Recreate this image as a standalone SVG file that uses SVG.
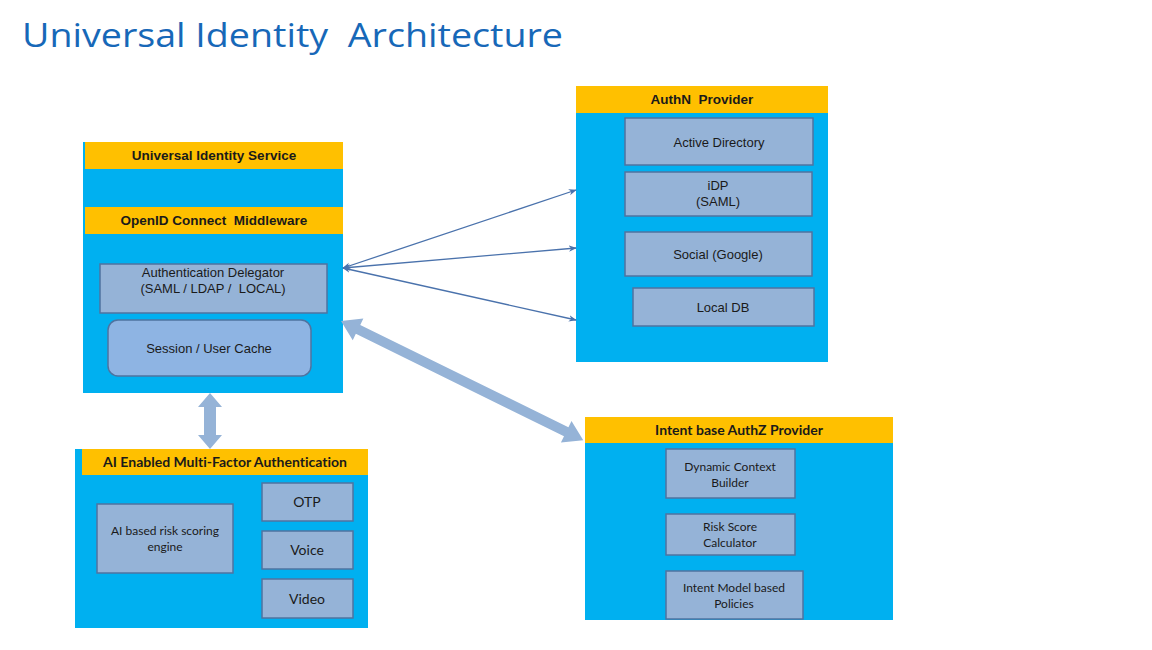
<svg xmlns="http://www.w3.org/2000/svg" width="1152" height="650" viewBox="0 0 1152 650">
<defs>
<style>
text{white-space:pre;font-variant-ligatures:none}
.bg{fill:#00B0F0}
.hd{fill:#FFC000}
.bx{fill:#95B3D7;stroke:#4F73A0;stroke-width:1.5}
.ht{font-family:"Liberation Sans",Arial,sans-serif;font-weight:bold;font-size:13.5px;fill:#1a1a1a;text-anchor:middle}
.hc{font-family:Lato,"Liberation Sans",sans-serif;font-weight:bold;font-size:14px;fill:#1a1a1a;text-anchor:middle}
.t{font-family:"Liberation Sans",Arial,sans-serif;font-size:13px;fill:#1a1a1a;text-anchor:middle}
.tc{font-family:Lato,"Liberation Sans",sans-serif;font-size:12px;fill:#1a1a1a;text-anchor:middle}
.tc2{font-family:Lato,"Liberation Sans",sans-serif;font-size:14px;fill:#1a1a1a;text-anchor:middle}
.thin{stroke:#4A72AC;stroke-width:1.3;fill:none;marker-start:url(#ah);marker-end:url(#ah)}
</style>
<marker id="ah" viewBox="0 0 10 10" refX="9" refY="5" markerWidth="8" markerHeight="8" orient="auto-start-reverse" markerUnits="userSpaceOnUse">
<path d="M0,1 L10,5 L0,9 L3,5 z" fill="#4A72AC"/>
</marker>
</defs>
<rect width="1152" height="650" fill="#FFFFFF"/>
<text x="22" y="47" font-family="'Open Sans','Liberation Sans',sans-serif" font-size="33" fill="#1768B8" textLength="541" lengthAdjust="spacingAndGlyphs">Universal Identity  Architecture</text>

<g id="uis">
<rect class="bg" x="83" y="142" width="260" height="251"/>
<rect class="hd" x="85" y="142" width="258" height="27"/>
<text class="ht" x="214" y="160">Universal Identity Service</text>
<rect class="hd" x="85" y="207" width="258" height="27"/>
<text class="ht" x="214" y="225">OpenID Connect  Middleware</text>
<rect class="bx" x="100" y="264" width="227" height="49"/>
<text class="t" x="213" y="277">Authentication Delegator</text>
<text class="t" x="213" y="293">(SAML / LDAP /  LOCAL)</text>
<rect x="108" y="320" width="203" height="56" rx="10" fill="#8EB4E3" stroke="#4F73A0" stroke-width="1.5"/>
<text class="t" x="209" y="353">Session / User Cache</text>
</g>

<g id="authn">
<rect class="bg" x="576" y="112" width="252" height="250"/>
<rect class="hd" x="576" y="86" width="252" height="27"/>
<text class="ht" x="702" y="104">AuthN  Provider</text>
<rect class="bx" x="625" y="118" width="188" height="47"/>
<text class="t" x="719" y="147">Active Directory</text>
<rect class="bx" x="625" y="172" width="187" height="44"/>
<text class="t" x="718" y="190">iDP</text>
<text class="t" x="718" y="206">(SAML)</text>
<rect class="bx" x="625" y="232" width="187" height="44"/>
<text class="t" x="718" y="259">Social (Google)</text>
<rect class="bx" x="633" y="288" width="181" height="38"/>
<text class="t" x="723" y="312">Local DB</text>
</g>

<g id="mfa">
<rect class="bg" x="75" y="449" width="293" height="179"/>
<rect class="hd" x="82" y="449" width="286" height="26"/>
<text class="hc" x="225" y="467">AI Enabled Multi-Factor Authentication</text>
<rect class="bx" x="97" y="504" width="136" height="69"/>
<text class="tc" x="165" y="535">AI based risk scoring</text>
<text class="tc" x="165" y="551">engine</text>
<rect class="bx" x="262" y="483" width="91" height="38"/>
<text class="tc2" x="307" y="507">OTP</text>
<rect class="bx" x="262" y="531" width="91" height="38"/>
<text class="tc2" x="307" y="555">Voice</text>
<rect class="bx" x="262" y="579" width="91" height="39"/>
<text class="tc2" x="307" y="604">Video</text>
</g>

<g id="authz">
<rect class="bg" x="585" y="443" width="308" height="177"/>
<rect class="hd" x="585" y="417" width="308" height="26"/>
<text class="hc" x="739" y="435">Intent base AuthZ Provider</text>
<rect class="bx" x="666" y="449" width="129" height="49"/>
<text class="tc" x="730" y="471">Dynamic Context</text>
<text class="tc" x="730" y="487">Builder</text>
<rect class="bx" x="666" y="514" width="129" height="41"/>
<text class="tc" x="730" y="531">Risk Score</text>
<text class="tc" x="730" y="547">Calculator</text>
<rect class="bx" x="666" y="571" width="137" height="48"/>
<text class="tc" x="734" y="592">Intent Model based</text>
<text class="tc" x="734" y="608">Policies</text>
</g>

<g id="connectors">
<line class="thin" x1="343" y1="268" x2="576" y2="190"/>
<line class="thin" x1="343" y1="268" x2="576" y2="248"/>
<line class="thin" x1="343" y1="268" x2="576" y2="320"/>
<path d="M210,393 L222,407 L216,407 L216,435 L222,435 L210,449 L198,435 L204,435 L204,407 L198,407 Z" fill="#95B3D7"/>
<g transform="translate(341,321) rotate(26.2)">
<path d="M0,0 L19,-12 L19,-5 L251,-5 L251,-12 L270,0 L251,12 L251,5 L19,5 L19,12 Z" fill="#95B3D7"/>
</g>
</g>
</svg>
